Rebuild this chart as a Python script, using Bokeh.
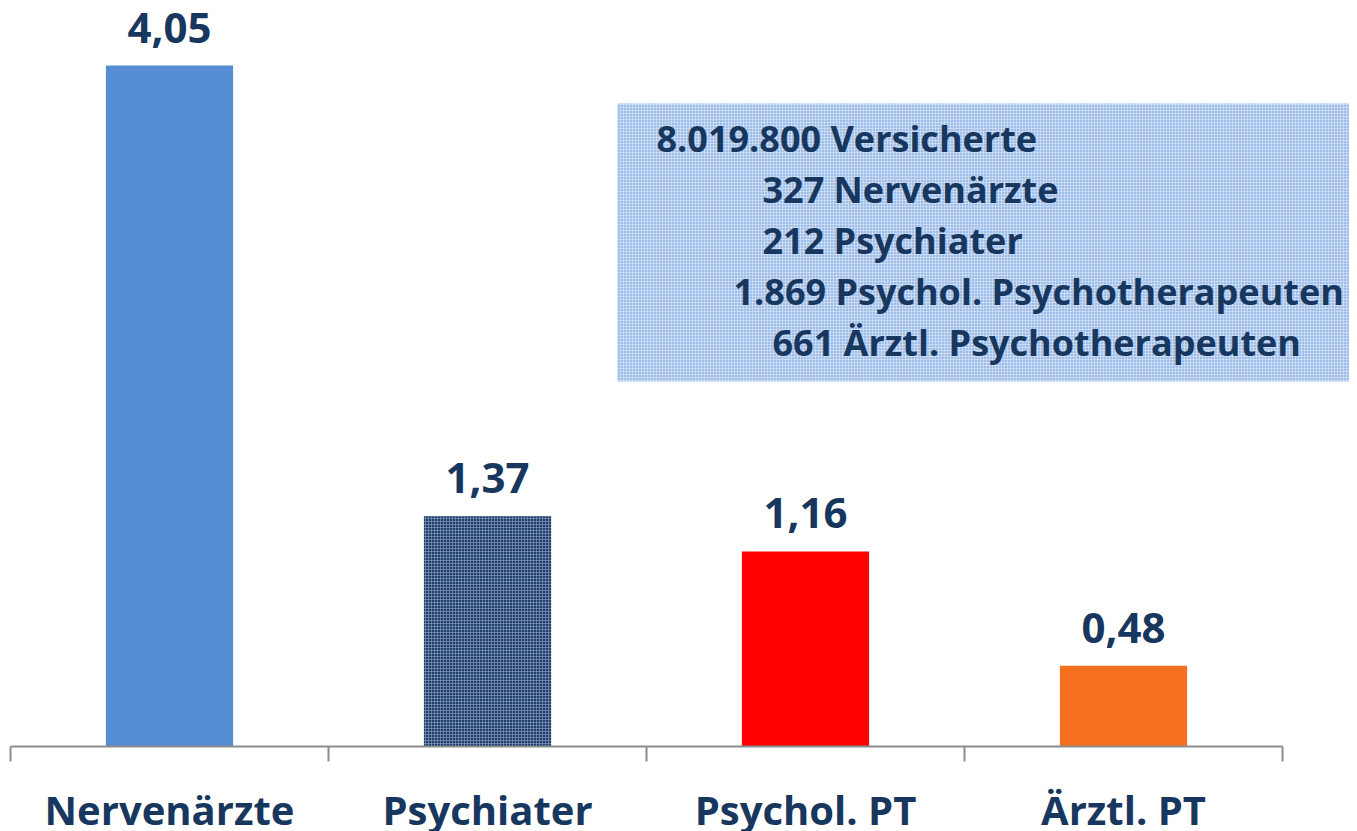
from bokeh.plotting import figure
from bokeh.models import ColumnDataSource, Range1d, LinearAxis, FixedTicker, BoxAnnotation
from bokeh.core.properties import value
from bokeh.embed import file_html
from bokeh.resources import INLINE

# ---- data ----
categories = ["Nervenärzte", "Psychiater", "Psychol. PT", "Ärztl. PT"]
values = [4.05, 1.37, 1.16, 0.48]
bar_colors = ["#558ED5", "#1F3D6B", "#FF0000", "#F4701E"]
info_lines = [
    "8.019.800 Versicherte",
    "327 Nervenärzte",
    "212 Psychiater",
    "1.869 Psychol. Psychotherapeuten",
    "661 Ärztl. Psychotherapeuten",
]

# ---- layout constants (pixels, picture coordinates) ----
W, H = 1349, 823
BASE = 746            # y of axis line
FRAME_H = BASE
PX_X = 318.0          # pixels per category
PX_Y = 681.0 / 4.05   # pixels per unit
X0 = 10               # x of category axis start
TEXT = "#17375E"
FONT = "Open Sans"
BASELINE_FIX = 15     # compensation for rendered text baseline

def dx(px):
    return (px - X0) / PX_X

def dy(py):
    return (BASE - py) / PX_Y

x_start = dx(0)
x_end = x_start + W / PX_X
y_end = FRAME_H / PX_Y

p = figure(width=W, height=H, frame_width=W, frame_height=FRAME_H,
           x_range=Range1d(x_start, x_end), y_range=Range1d(0, y_end),
           output_backend="svg", toolbar_location=None,
           x_axis_location=None, y_axis_location=None,
           min_border_left=0, min_border_right=0, min_border_top=0,
           min_border_bottom=H - FRAME_H)
p.outline_line_color = None
p.xgrid.visible = False
p.ygrid.visible = False
p.background_fill_color = "white"
p.border_fill_color = "white"

xs = [i + 0.5 for i in range(len(categories))]
labels = [f"{v:.2f}".replace(".", ",") for v in values]
src = ColumnDataSource(dict(x=xs, top=values, color=bar_colors, label=labels,
                            hatch=[" ", "cross", " ", " "]))

# info box
box = BoxAnnotation(left=dx(617), right=x_end + 0.1, top=dy(103), bottom=dy(381),
                    fill_color="#9FBEEA", fill_alpha=1.0, line_color=None,
                    hatch_pattern="cross", hatch_color="white", hatch_alpha=0.35,
                    hatch_scale=3, hatch_weight=1, level="underlay")
p.add_layout(box)

p.vbar(x="x", top="top", bottom=0, width=0.40, fill_color="color", line_color=None,
       hatch_pattern="hatch", hatch_color="#9AAECB", hatch_alpha=0.55,
       hatch_scale=3, hatch_weight=1, source=src)

p.text(x="x", y="top", text="label", source=src, text_align="center",
       text_baseline="alphabetic", y_offset=-38, text_color=TEXT,
       text_font=value(FONT), text_font_style="bold", text_font_size="42px")

line_x = [656, 762, 762, 733, 772]
line_y = [152.5, 203.5, 254.5, 306, 357]
p.text(x=[dx(v) for v in line_x], y=[dy(v - BASELINE_FIX) for v in line_y], text=info_lines,
       text_align="left", text_baseline="alphabetic", text_color=TEXT,
       text_font=value(FONT), text_font_style="bold", text_font_size="36px")

axis = LinearAxis(bounds=(0, len(categories)),
                  ticker=FixedTicker(ticks=xs, minor_ticks=list(range(len(categories) + 1))))
axis.major_label_overrides = {x: c for x, c in zip(xs, categories)}
axis.axis_line_color = "#8C8C8C"
axis.axis_line_width = 2
axis.major_tick_line_color = None
axis.major_tick_out = 0
axis.major_tick_in = 0
axis.minor_tick_line_color = "#8C8C8C"
axis.minor_tick_line_width = 2
axis.minor_tick_out = 15
axis.minor_tick_in = 0
axis.major_label_standoff = 20
axis.major_label_text_color = TEXT
axis.major_label_text_font = FONT
axis.major_label_text_font_style = "bold"
axis.major_label_text_font_size = "40px"
p.add_layout(axis, "below")

open("out.html", "w").write(file_html(p, INLINE))
